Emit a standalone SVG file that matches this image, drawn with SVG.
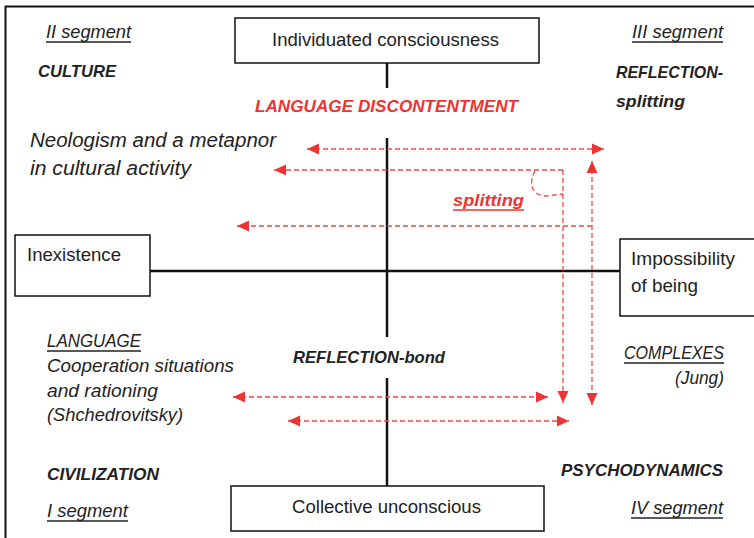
<svg xmlns="http://www.w3.org/2000/svg" width="754" height="538" viewBox="0 0 754 538">
<defs>
<style>
text{font-family:"Liberation Sans",Arial,sans-serif;fill:#222}
.box{fill:#fff;stroke:#111;stroke-width:1.5}
.ax{stroke:#111;stroke-width:2.5;fill:none}
.bl{font-size:18.5px}
.it{font-style:italic;font-size:17.5px}
.bi{font-style:italic;font-weight:bold;font-size:16.5px}
.red{fill:#ee3333}
.ul{stroke:#222;stroke-width:1.3}
.dr{stroke:#ef4a4a;stroke-width:1.3;stroke-dasharray:5 3;fill:none}
</style>
<marker id="ah" viewBox="0 0 12 12" refX="12" refY="6" markerWidth="12" markerHeight="12" markerUnits="userSpaceOnUse" orient="auto-start-reverse">
<path d="M0,0.5 L12,6 L0,11.5 z" fill="#ee3333"/>
</marker>
</defs>
<rect x="0" y="0" width="754" height="538" fill="#fff"/>
<rect x="5.5" y="6.5" width="800" height="600" fill="none" stroke="#111" stroke-width="2"/>

<g id="axes">
<line class="ax" x1="387" y1="63" x2="387" y2="88"/>
<line class="ax" x1="387" y1="138" x2="387" y2="337"/>
<line class="ax" x1="387" y1="378" x2="387" y2="486"/>
<line class="ax" x1="150" y1="271" x2="620" y2="271"/>
</g>

<g id="connectors">
<path class="dr" d="M307,149 H604" marker-start="url(#ah)" marker-end="url(#ah)"/>
<path class="dr" d="M563,170 H274" marker-end="url(#ah)"/>
<path class="dr" d="M563,170 V403" marker-end="url(#ah)"/>
<path class="dr" d="M535,171 C529,182 530,195 546,196 L563,194"/>
<path class="dr" d="M592,226 H237" marker-end="url(#ah)"/>
<path class="dr" d="M592,161 V405" marker-start="url(#ah)" marker-end="url(#ah)"/>
<path class="dr" d="M233,397 H548" marker-start="url(#ah)" marker-end="url(#ah)"/>
<path class="dr" d="M288,421 H569" marker-start="url(#ah)" marker-end="url(#ah)"/>
</g>

<g id="individuated">
<rect class="box" x="235" y="18" width="304" height="45"/>
<text class="bl" x="272" y="46" textLength="227" lengthAdjust="spacingAndGlyphs">Individuated consciousness</text>
</g>
<g id="collective">
<rect class="box" x="231" y="486" width="313" height="45"/>
<text class="bl" x="292" y="513" textLength="189" lengthAdjust="spacingAndGlyphs">Collective unconscious</text>
</g>
<g id="inexistence">
<rect class="box" x="15" y="235" width="135" height="61"/>
<text class="bl" x="27" y="261" textLength="94" lengthAdjust="spacingAndGlyphs">Inexistence</text>
</g>
<g id="impossibility">
<rect class="box" x="620" y="239" width="140" height="77"/>
<text class="bl" x="631" y="265" textLength="104" lengthAdjust="spacingAndGlyphs">Impossibility</text>
<text class="bl" x="631" y="292" textLength="67" lengthAdjust="spacingAndGlyphs">of being</text>
</g>

<g id="segment2">
<text class="it" x="46" y="38" textLength="85" lengthAdjust="spacingAndGlyphs">II segment</text>
<line class="ul" x1="46" y1="42" x2="131" y2="42"/>
<text class="bi" x="38" y="77" textLength="78" lengthAdjust="spacingAndGlyphs">CULTURE</text>
</g>
<g id="segment3">
<text class="it" x="632" y="38" textLength="91" lengthAdjust="spacingAndGlyphs">III segment</text>
<line class="ul" x1="632" y1="42" x2="723" y2="42"/>
<text class="bi" x="616" y="78" textLength="107" lengthAdjust="spacingAndGlyphs">REFLECTION-</text>
<text class="bi" x="616" y="107" textLength="69" lengthAdjust="spacingAndGlyphs">splitting</text>
</g>
<g id="language-discontentment">
<text class="bi red" x="255" y="112" textLength="263" lengthAdjust="spacingAndGlyphs">LANGUAGE DISCONTENTMENT</text>
</g>
<g id="neologism">
<text class="it" style="font-size:20.5px" x="30" y="147" textLength="246" lengthAdjust="spacingAndGlyphs">Neologism and a metapnor</text>
<text class="it" style="font-size:20.5px" x="30" y="175" textLength="161" lengthAdjust="spacingAndGlyphs">in cultural activity</text>
</g>
<g id="splitting">
<text class="bi red" x="453" y="206" textLength="71" lengthAdjust="spacingAndGlyphs">splitting</text>
<line stroke="#ee3333" stroke-width="1.5" x1="453" y1="210" x2="524" y2="210"/>
</g>
<g id="language">
<text class="it" x="47" y="347" textLength="94" lengthAdjust="spacingAndGlyphs">LANGUAGE</text>
<line class="ul" x1="47" y1="351" x2="141" y2="351"/>
<text class="it" x="47" y="372" textLength="187" lengthAdjust="spacingAndGlyphs">Cooperation situations</text>
<text class="it" x="47" y="397" textLength="111" lengthAdjust="spacingAndGlyphs">and rationing</text>
<text class="it" x="47" y="421" textLength="136" lengthAdjust="spacingAndGlyphs">(Shchedrovitsky)</text>
</g>
<g id="reflection-bond">
<text class="bi" x="293" y="363" textLength="152" lengthAdjust="spacingAndGlyphs">REFLECTION-bond</text>
</g>
<g id="complexes">
<text class="it" x="624" y="359" textLength="100" lengthAdjust="spacingAndGlyphs">COMPLEXES</text>
<line class="ul" x1="624" y1="363" x2="724" y2="363"/>
<text class="it" x="675" y="384" textLength="49" lengthAdjust="spacingAndGlyphs">(Jung)</text>
</g>
<g id="segment1">
<text class="bi" x="47" y="480" textLength="112" lengthAdjust="spacingAndGlyphs">CIVILIZATION</text>
<text class="it" x="47" y="517" textLength="81" lengthAdjust="spacingAndGlyphs">I segment</text>
<line class="ul" x1="47" y1="521" x2="128" y2="521"/>
</g>
<g id="segment4">
<text class="bi" x="561" y="476" textLength="162" lengthAdjust="spacingAndGlyphs">PSYCHODYNAMICS</text>
<text class="it" x="631" y="514" textLength="92" lengthAdjust="spacingAndGlyphs">IV segment</text>
<line class="ul" x1="631" y1="518" x2="723" y2="518"/>
</g>
</svg>
